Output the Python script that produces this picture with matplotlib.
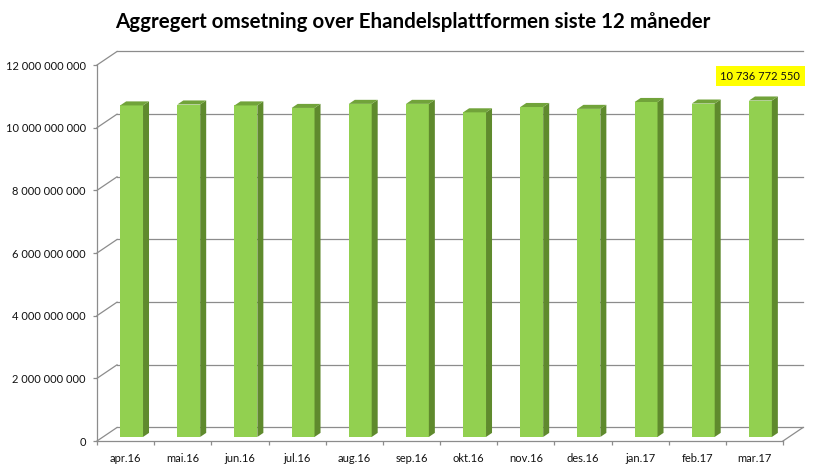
import matplotlib
matplotlib.use("Agg")
import matplotlib.pyplot as plt
from matplotlib.patches import Polygon
from matplotlib.ticker import FuncFormatter, FixedLocator

months = ["apr.16", "mai.16", "jun.16", "jul.16", "aug.16", "sep.16",
          "okt.16", "nov.16", "des.16", "jan.17", "feb.17", "mar.17"]
values = [10.58e9, 10.61e9, 10.58e9, 10.50e9, 10.63e9, 10.63e9,
          10.36e9, 10.53e9, 10.47e9, 10.69e9, 10.64e9, 10736772550]
yticks = [0, 2e9, 4e9, 6e9, 8e9, 10e9, 12e9]
title = "Aggregert omsetning over Ehandelsplattformen siste 12 måneder"
highlight_text = "10 736 772 550"

plt.rcParams['font.family'] = ['Lato', 'DejaVu Sans']

W, H = 813, 467
fig = plt.figure(figsize=(W / 100, H / 100), dpi=100)
ax = fig.add_axes([97 / W, 26 / H, 686 / W, 376 / H])
n = len(months)
ax.set_xlim(-0.5, n - 0.5)
ax.set_ylim(0, 12e9)

# oblique depth of the 3D box
Dx = 0.35          # category units
Dy = 0.431e9       # value units
grid_c = "#8c8c8c"

# back wall gridlines and left-wall diagonals
for v in yticks:
    ax.plot([-0.5 + Dx, n - 0.5 + Dx], [v + Dy, v + Dy], color=grid_c,
            lw=0.9, clip_on=False, zorder=1)
    ax.plot([-0.5, -0.5 + Dx], [v, v + Dy], color=grid_c, lw=0.9,
            clip_on=False, zorder=1)
# floor right diagonal
ax.plot([n - 0.5, n - 0.5 + Dx], [0, Dy], color=grid_c, lw=0.9,
        clip_on=False, zorder=1)

# 3D bars
fx, fy = 0.3 * Dx, 0.3 * Dy     # front face offset into depth
bdx, bdy = 0.3 * Dx, 0.3 * Dy   # bar depth
w = 0.40
front_c, side_c, top_c = "#92D050", "#5F8A2D", "#71A33A"
for i, v in enumerate(values):
    x0 = i + fx - w / 2
    x1 = i + fx + w / 2
    y0 = fy
    y1 = fy + v
    front = Polygon([(x0, y0), (x1, y0), (x1, y1), (x0, y1)], closed=True,
                    facecolor=front_c, edgecolor="none", zorder=3, clip_on=False)
    side = Polygon([(x1, y0), (x1 + bdx, y0 + bdy), (x1 + bdx, y1 + bdy), (x1, y1)],
                   closed=True, facecolor=side_c, edgecolor="none", zorder=3,
                   clip_on=False)
    top = Polygon([(x0, y1), (x1, y1), (x1 + bdx, y1 + bdy), (x0 + bdx, y1 + bdy)],
                  closed=True, facecolor=top_c, edgecolor="none", zorder=3,
                  clip_on=False)
    for p in (front, side, top):
        ax.add_patch(p)

# highlight label for last bar
ax.annotate(highlight_text, xy=(n - 1 + fx, values[-1]), xytext=(0, 20.5),
            textcoords="offset points", ha="center", va="center", fontsize=8,
            color="#111111",
            bbox=dict(boxstyle="square,pad=0.4", facecolor="#FFFF00",
                      edgecolor="none"), zorder=5, annotation_clip=False)

# axes styling
for s in ("top", "right"):
    ax.spines[s].set_visible(False)
for s in ("left", "bottom"):
    ax.spines[s].set_color(grid_c)
    ax.spines[s].set_linewidth(0.9)
    ax.spines[s].set_zorder(2)

ax.yaxis.set_major_locator(FixedLocator(yticks))
ax.yaxis.set_major_formatter(FuncFormatter(lambda v, p: f"{v:,.0f}".replace(",", " ")))
ax.tick_params(axis="y", length=3, width=0.9, color=grid_c, labelsize=8,
               pad=5, labelcolor="#111111")

ax.xaxis.set_major_locator(FixedLocator([i - 0.5 for i in range(n + 1)]))
ax.xaxis.set_minor_locator(FixedLocator(list(range(n))))
ax.set_xticklabels([], minor=False)
ax.set_xticklabels(months, minor=True)
ax.tick_params(axis="x", which="major", length=3, width=0.9, color=grid_c)
ax.tick_params(axis="x", which="minor", length=0, labelsize=8, pad=9,
               labelcolor="#111111")

fig.text(413 / W, 1 - 22 / H, title, ha="center", va="center",
         fontsize=14.8, fontweight="bold", color="black")

fig.savefig("out.png", dpi=100)
